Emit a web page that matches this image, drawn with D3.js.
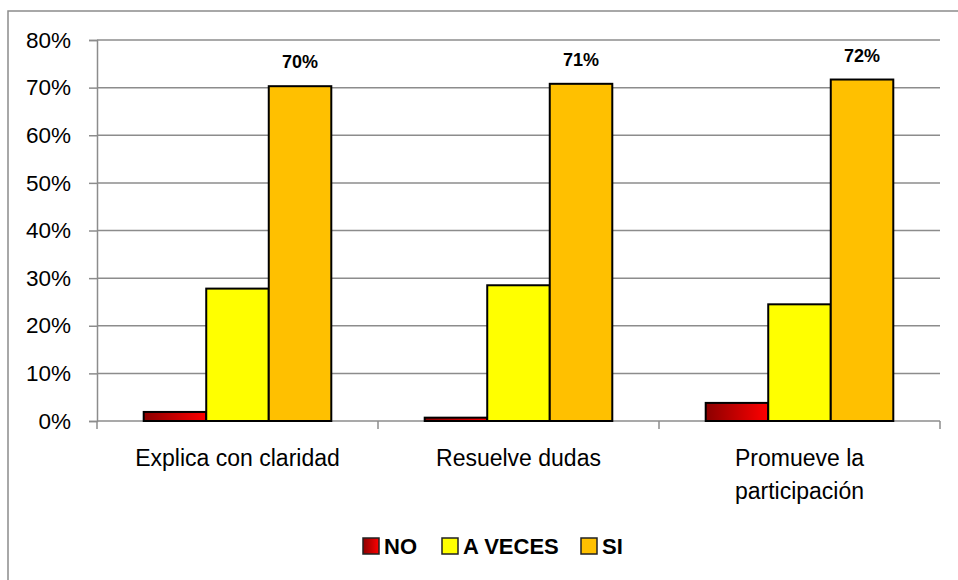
<!DOCTYPE html>
<html>
<head>
<meta charset="utf-8">
<script src="https://cdn.jsdelivr.net/npm/d3@7"></script>
<style>
  html, body { margin: 0; padding: 0; background: #fff; }
  svg { display: block; font-family: "Liberation Sans", Arial, sans-serif; }
</style>
</head>
<body>
<svg id="chart" width="958" height="580"></svg>
<script>
// Survey answers per teaching aspect (share of respondents)
const categories = [["Explica con claridad"], ["Resuelve dudas"], ["Promueve la", "participación"]];
const seriesNames = ["NO", "A VECES", "SI"];
const noValues = [0.019, 0.007, 0.038];
const aVecesValues = [0.278, 0.285, 0.245];
const siValues = [0.703, 0.708, 0.717];
const yTicks = [0, 0.1, 0.2, 0.3, 0.4, 0.5, 0.6, 0.7, 0.8];

const seriesValues = [noValues, aVecesValues, siValues];
const fills = ["url(#redGrad)", "#FFFF00", "#FFC000"];

const svg = d3.select("#chart");
const defs = svg.append("defs");
const grad = defs.append("linearGradient").attr("id", "redGrad")
  .attr("x1", "0%").attr("x2", "100%").attr("y1", "0%").attr("y2", "0%");
grad.append("stop").attr("offset", "0%").attr("stop-color", "#8B0000");
grad.append("stop").attr("offset", "100%").attr("stop-color", "#FF0000");

// Chart frame
svg.append("rect")
  .attr("x", 8).attr("y", 11).attr("width", 990).attr("height", 600)
  .attr("fill", "none").attr("stroke", "#8c8c8c").attr("stroke-width", 1.5);

const plot = { left: 97, right: 940, top: 40, bottom: 421 };

const x0 = d3.scaleBand()
  .domain(d3.range(categories.length))
  .range([plot.left, plot.right])
  .paddingInner(0).paddingOuter(0);

// Three bars share 188 of each ~281px category (Excel gap width 150%)
const x1 = d3.scaleBand()
  .domain(d3.range(seriesNames.length))
  .range([0, x0.bandwidth()])
  .paddingOuter(0.747).paddingInner(0);

const y = d3.scaleLinear().domain([0, 0.8]).range([plot.bottom, plot.top]);

// Gridlines
svg.append("g").selectAll("line")
  .data(yTicks.filter(d => d > 0))
  .join("line")
  .attr("x1", plot.left).attr("x2", plot.right)
  .attr("y1", d => y(d)).attr("y2", d => y(d))
  .attr("stroke", "#8c8c8c").attr("stroke-width", 1.5);

// Y axis
const yAxis = d3.axisLeft(y).tickValues(yTicks).tickFormat(d3.format(".0%"))
  .tickSize(8).tickPadding(18);
const yg = svg.append("g").attr("transform", `translate(${plot.left},0)`).call(yAxis);
yg.select(".domain").attr("stroke", "#8c8c8c").attr("stroke-width", 1.5);
yg.selectAll(".tick line").attr("stroke", "#8c8c8c").attr("stroke-width", 1.5);
yg.selectAll(".tick text").attr("font-size", 22.5).attr("fill", "#000")
  .attr("font-family", "Liberation Sans, Arial, sans-serif");

// X axis baseline and category separators
const xg = svg.append("g");
xg.append("line").attr("x1", plot.left).attr("x2", plot.right)
  .attr("y1", plot.bottom).attr("y2", plot.bottom)
  .attr("stroke", "#8c8c8c").attr("stroke-width", 1.5);
const bounds = d3.range(categories.length + 1).map(i =>
  i < categories.length ? x0(i) : x0(categories.length - 1) + x0.bandwidth());
xg.selectAll("line.sep").data(bounds).join("line").attr("class", "sep")
  .attr("x1", d => d).attr("x2", d => d)
  .attr("y1", plot.bottom).attr("y2", plot.bottom + 8)
  .attr("stroke", "#8c8c8c").attr("stroke-width", 1.5);

// Category labels
const catText = xg.selectAll("text.cat").data(categories).join("text").attr("class", "cat")
  .attr("text-anchor", "middle").attr("font-size", 23).attr("fill", "#000")
  .attr("x", (d, i) => x0(i) + x0.bandwidth() / 2)
  .attr("y", 466);
catText.selectAll("tspan").data(d => d).join("tspan")
  .attr("x", function () { return d3.select(this.parentNode).attr("x"); })
  .attr("dy", (d, i) => i === 0 ? 0 : 33)
  .text(d => d);

// Bars
const groups = svg.append("g").selectAll("g")
  .data(categories.map((c, i) => i)).join("g")
  .attr("transform", i => `translate(${x0(i)},0)`);
groups.selectAll("rect")
  .data(i => seriesValues.map((vals, s) => ({ s, v: vals[i] })))
  .join("rect")
  .attr("x", d => x1(d.s))
  .attr("width", x1.bandwidth())
  .attr("y", d => y(d.v))
  .attr("height", d => y(0) - y(d.v))
  .attr("fill", d => fills[d.s])
  .attr("stroke", "#000").attr("stroke-width", 2);

// Value labels on the SI series
svg.append("g").selectAll("text")
  .data(siValues).join("text")
  .attr("x", (d, i) => x0(i) + x1(2) + x1.bandwidth() / 2)
  .attr("y", d => y(d) - 18)
  .attr("text-anchor", "middle").attr("font-size", 18).attr("font-weight", "bold")
  .attr("fill", "#000")
  .text(d => d3.format(".0%")(d));

// Legend
const legendItems = [
  { name: seriesNames[0], x: 363, fill: fills[0] },
  { name: seriesNames[1], x: 442, fill: fills[1] },
  { name: seriesNames[2], x: 581, fill: fills[2] }
];
const lg = svg.append("g").selectAll("g").data(legendItems).join("g")
  .attr("transform", d => `translate(${d.x},538)`);
lg.append("rect").attr("width", 16).attr("height", 16)
  .attr("fill", d => d.fill).attr("stroke", "#222").attr("stroke-width", 1.5);
lg.append("text").attr("x", 21).attr("y", 16)
  .attr("font-size", 22).attr("font-weight", "bold").attr("fill", "#000")
  .text(d => d.name);
</script>
</body>
</html>
